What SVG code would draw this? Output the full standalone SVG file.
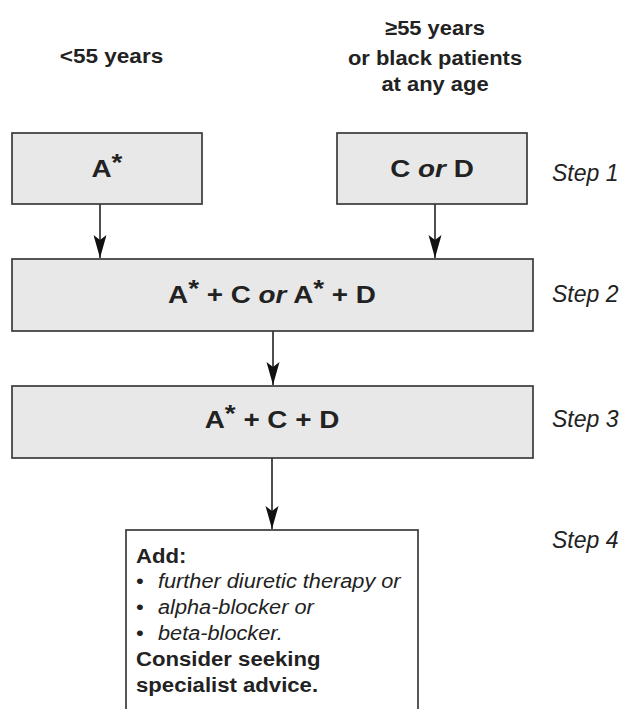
<svg xmlns="http://www.w3.org/2000/svg" width="627" height="709" viewBox="0 0 627 709">
<style>
text{font-family:"Liberation Sans",Arial,Helvetica,sans-serif;fill:#222}
.hd{font-size:20.5px;font-weight:bold;text-anchor:middle}
.bx{font-size:24px;font-weight:bold;text-anchor:middle}
.st{font-size:23px;font-style:italic}
.b4{font-size:20.5px}
.bold{font-weight:bold}
.it{font-style:italic}
.box{fill:#e8e8e8;stroke:#3a3a3a;stroke-width:1.7}
.wbox{fill:#fff;stroke:#3a3a3a;stroke-width:1.7}
.conn{stroke:#222;stroke-width:1.6;fill:none;marker-end:url(#ah)}
</style>
<defs>
<marker id="ah" viewBox="-24 -7 25 14" refX="0" refY="0" markerWidth="25" markerHeight="14" markerUnits="userSpaceOnUse" orient="auto" overflow="visible">
<path d="M0,0 L-23,-6.5 L-18,0 L-23,6.5 Z" fill="#111"/>
</marker>
</defs>

<g id="labels">
<text class="hd" transform="translate(111.5,63) scale(1.1,1)">&lt;55 years</text>
<text class="hd" transform="translate(435,35) scale(1.07,1)">≥55 years</text>
<text class="hd" transform="translate(435,65) scale(1.07,1)">or black patients</text>
<text class="hd" transform="translate(435,91) scale(1.07,1)">at any age</text>
</g>

<g id="step-labels">
<text class="st" x="552" y="181">Step 1</text>
<text class="st" x="552" y="302">Step 2</text>
<text class="st" x="552" y="427">Step 3</text>
<text class="st" x="552" y="548">Step 4</text>
</g>

<g id="connectors">
<line class="conn" x1="100" y1="204" x2="100" y2="258"/>
<line class="conn" x1="435" y1="204" x2="435" y2="258"/>
<line class="conn" x1="273" y1="331" x2="273" y2="385"/>
<line class="conn" x1="272" y1="458" x2="272" y2="529"/>
</g>

<g id="node-a">
<rect class="box" x="12" y="133" width="190" height="71"/>
<text class="bx" transform="translate(107,177) scale(1.16,1)">A<tspan dy="-6">*</tspan></text>
</g>

<g id="node-cd">
<rect class="box" x="337" y="133" width="190" height="71"/>
<text class="bx" transform="translate(432,177) scale(1.16,1)">C  <tspan class="it">or</tspan> D</text>
</g>

<g id="node-step2">
<rect class="box" x="12" y="259" width="521" height="72"/>
<text class="bx" transform="translate(272,303) scale(1.16,1)">A<tspan dy="-6">*</tspan><tspan dy="6"> + C </tspan><tspan class="it">or</tspan> A<tspan dy="-6">*</tspan><tspan dy="6"> + D</tspan></text>
</g>

<g id="node-step3">
<rect class="box" x="12" y="386" width="521" height="72"/>
<text class="bx" transform="translate(272,428) scale(1.16,1)">A<tspan dy="-6">*</tspan><tspan dy="6"> + C + D</tspan></text>
</g>

<g id="node-step4">
<rect class="wbox" x="126" y="530" width="292" height="200"/>
<text class="b4 bold" transform="translate(136,563) scale(1.08,1)">Add:</text>
<text class="b4" transform="translate(136,588) scale(1.08,1)">•</text>
<text class="b4 it" transform="translate(158,588) scale(1.06,1)">further diuretic therapy or</text>
<text class="b4" transform="translate(136,614) scale(1.08,1)">•</text>
<text class="b4 it" transform="translate(158,614) scale(1.06,1)">alpha-blocker or</text>
<text class="b4" transform="translate(136,640) scale(1.08,1)">•</text>
<text class="b4 it" transform="translate(158,640) scale(1.06,1)">beta-blocker.</text>
<text class="b4 bold" transform="translate(136,666) scale(1.08,1)">Consider seeking</text>
<text class="b4 bold" transform="translate(136,692) scale(1.08,1)">specialist advice.</text>
</g>
</svg>
